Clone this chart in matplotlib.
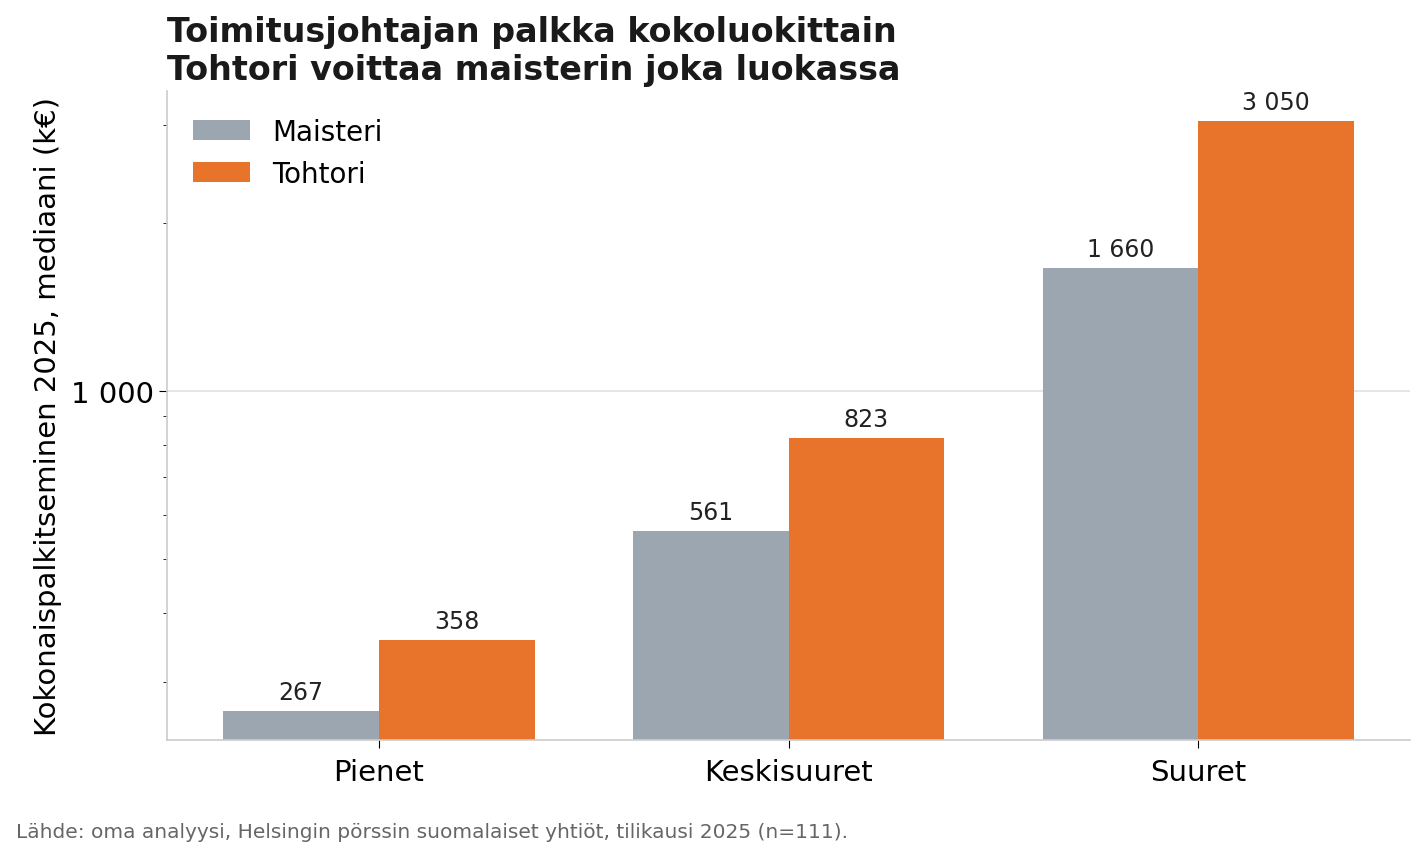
import numpy as np
import matplotlib.pyplot as plt
from matplotlib.ticker import FixedLocator, FuncFormatter, NullFormatter, LogLocator

categories = ["Pienet", "Keskisuuret", "Suuret"]
maisteri = [267, 561, 1660]
tohtori = [358, 823, 3050]
labels_m = ["267", "561", "1 660"]
labels_t = ["358", "823", "3 050"]

grey = "#9BA6B1"
orange = "#E8742C"

fig = plt.figure(figsize=(14.26, 8.54), dpi=100)
ax = fig.add_axes([0.117, 0.132, 0.872, 0.760])

x = np.arange(len(categories))
w = 0.38
b1 = ax.bar(x - w / 2, maisteri, w, color=grey, label="Maisteri", zorder=2)
b2 = ax.bar(x + w / 2, tohtori, w, color=orange, label="Tohtori", zorder=2)

ax.set_yscale("log")
ax.set_ylim(min(maisteri) * 0.885, max(tohtori) * 1.13)

ax.bar_label(b1, labels=labels_m, padding=5, fontsize=17, color="#222222")
ax.bar_label(b2, labels=labels_t, padding=5, fontsize=17, color="#222222")

ax.yaxis.set_major_locator(FixedLocator([1000]))
ax.yaxis.set_major_formatter(FuncFormatter(lambda v, p: f"{v:,.0f}".replace(",", " ")))
ax.yaxis.set_minor_locator(LogLocator(base=10, subs=np.arange(2, 10)))
ax.yaxis.set_minor_formatter(NullFormatter())
ax.tick_params(axis="y", which="major", labelsize=21, length=6)
ax.tick_params(axis="y", which="minor", length=3)
ax.tick_params(axis="x", labelsize=21, length=6, pad=7)

ax.set_xticks(x)
ax.set_xticklabels(categories)

ax.grid(axis="y", which="major", color="#e0e0e0", linewidth=1.2, zorder=0)
ax.set_axisbelow(True)

for s in ["top", "right"]:
    ax.spines[s].set_visible(False)
for s in ["left", "bottom"]:
    ax.spines[s].set_color("#cccccc")
    ax.spines[s].set_linewidth(1.2)

ax.set_ylabel("Kokonaispalkitseminen 2025, mediaani (k€)", fontsize=21, labelpad=6)
ax.set_title("Toimitusjohtajan palkka kokoluokittain\nTohtori voittaa maisterin joka luokassa",
             loc="left", fontsize=24, fontweight="bold", color="#1a1a1a", pad=9,
             linespacing=1.2)

ax.legend(loc="upper left", frameon=False, fontsize=20, handlelength=2.05,
          handleheight=0.7, borderaxespad=0.55)

fig.text(0.011, 0.019, "Lähde: oma analyysi, Helsingin pörssin suomalaiset yhtiöt, tilikausi 2025 (n=111).",
         fontsize=14.5, color="#666666")

fig.savefig("out.png", dpi=100)
